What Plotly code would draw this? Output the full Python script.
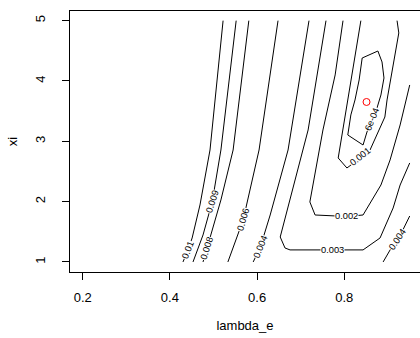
import plotly.graph_objects as go

FONT = "Liberation Sans"

# Contour paths (lambda_e, xi)
c010_lam = [0.522, 0.492, 0.469, 0.451, 0.4415, 0.430]
c010_xi = [5.0, 2.856, 1.945, 1.398, 1.199, 1.0]

c009_lam = [0.552, 0.517, 0.497, 0.476, 0.453]
c009_xi = [5.0, 2.856, 1.995, 1.448, 1.0]

c008_lam = [0.581, 0.545, 0.517, 0.485, 0.476]
c008_xi = [5.0, 2.856, 2.028, 1.232, 1.0]

c006_lam = [0.648, 0.6045, 0.568, 0.533]
c006_xi = [5.0, 2.856, 1.696, 1.0]

c004_lam = [0.719, 0.671, 0.630, 0.6075, 0.591]
c004_xi = [5.0, 2.856, 1.779, 1.249, 1.0]

c003_lam = [0.758, 0.717, 0.705, 0.680, 0.653, 0.664, 0.6755, 0.843, 0.882, 0.912, 0.928, 0.95]
c003_xi = [5.0, 3.188, 2.856, 2.144, 1.414, 1.232, 1.2, 1.2, 1.398, 1.895, 2.276, 2.641]

c002_lam = [0.797, 0.779, 0.751, 0.721, 0.733, 0.806, 0.843, 0.884, 0.905, 0.928, 0.939, 0.95]
c002_xi = [5.0, 4.100, 3.188, 1.995, 1.779, 1.754, 1.779, 2.276, 2.691, 3.271, 3.602, 3.934]

c001_lam = [0.838, 0.822, 0.806, 0.795, 0.786, 0.806, 0.831, 0.859, 0.877, 0.893, 0.898, 0.912, 0.925, 0.921]
c001_xi = [5.0, 4.315, 3.602, 3.105, 2.724, 2.558, 2.691, 2.856, 3.138, 3.403, 3.685, 4.265, 4.796, 5.0]

c6e4_lam = [0.841, 0.877, 0.8865, 0.891, 0.884, 0.875, 0.864, 0.852, 0.843, 0.808, 0.815, 0.8245, 0.834, 0.841]
c6e4_xi = [4.381, 4.497, 4.315, 4.050, 3.768, 3.553, 3.370, 3.155, 2.939, 3.105, 3.437, 3.685, 4.017, 4.381]

c004r_lam = [0.95, 0.932, 0.921, 0.905, 0.889]
c004r_xi = [1.762, 1.497, 1.365, 1.199, 1.0]

# Optimum marker
opt_lam = [0.851]
opt_xi = [3.652]

# Contour labels
label_text = ["0.01", "0.009", "0.008", "0.006", "0.004", "0.003", "0.002", "0.001", "6e-04", "0.004"]
label_lam = [0.4415, 0.497, 0.485, 0.568, 0.6075, 0.774, 0.806, 0.836, 0.864, 0.921]
label_xi = [1.199, 1.995, 1.232, 1.696, 1.249, 1.2, 1.754, 2.732, 3.370, 1.365]
label_angle = [-69, -72, -72, -74, -68, 0, 0, -38, -68, -56]

x_ticks = [0.2, 0.4, 0.6, 0.8]
x_ticktext = ["0.2", "0.4", "0.6", "0.8"]
y_ticks = [1, 2, 3, 4, 5]
y_ticktext = ["1", "2", "3", "4", "5"]

paths = [
    (c010_lam, c010_xi), (c009_lam, c009_xi), (c008_lam, c008_xi),
    (c006_lam, c006_xi), (c004_lam, c004_xi), (c003_lam, c003_xi),
    (c002_lam, c002_xi), (c001_lam, c001_xi), (c6e4_lam, c6e4_xi),
    (c004r_lam, c004r_xi),
]

fig = go.Figure()
for lam, xi in paths:
    fig.add_trace(go.Scatter(x=lam, y=xi, mode="lines",
                             line=dict(color="black", width=1),
                             hoverinfo="skip", showlegend=False))

fig.add_trace(go.Scatter(x=opt_lam, y=opt_xi, mode="markers",
                         marker=dict(symbol="circle-open", color="red", size=7,
                                     line=dict(color="red", width=1)),
                         hoverinfo="skip", showlegend=False))

annotations = []
for t, lx, ly, a in zip(label_text, label_lam, label_xi, label_angle):
    annotations.append(dict(x=lx, y=ly, xref="x", yref="y", text=t, textangle=a,
                            showarrow=False, bgcolor="white", borderpad=0,
                            font=dict(family=FONT, size=9.3, color="black")))

fig.update_layout(
    width=420, height=338,
    margin=dict(l=70, r=0, t=11, b=66),
    paper_bgcolor="white", plot_bgcolor="white",
    showlegend=False,
    annotations=annotations,
    font=dict(family=FONT, size=13, color="black"),
    xaxis=dict(range=[0.1709, 0.9736], tickvals=x_ticks, ticktext=x_ticktext,
               ticks="outside", ticklen=7, tickwidth=1, tickcolor="black",
               showline=True, linecolor="black", linewidth=1, mirror=True,
               showgrid=False, zeroline=False, ticklabelstandoff=6,
               tickfont=dict(family=FONT, size=13, color="black"),
               title=dict(text="lambda_e", standoff=17,
                          font=dict(family=FONT, size=13, color="black")),
               automargin=False),
    yaxis=dict(range=[0.834, 5.16], tickvals=y_ticks, ticktext=y_ticktext,
               tickangle=-90,
               ticks="outside", ticklen=7, tickwidth=1, tickcolor="black",
               showline=True, linecolor="black", linewidth=1, mirror=False,
               showgrid=False, zeroline=False, ticklabelstandoff=12,
               tickfont=dict(family=FONT, size=13, color="black"),
               title=dict(text="xi", standoff=12,
                          font=dict(family=FONT, size=13, color="black")),
               automargin=False),
)

fig.write_html("out.html")
